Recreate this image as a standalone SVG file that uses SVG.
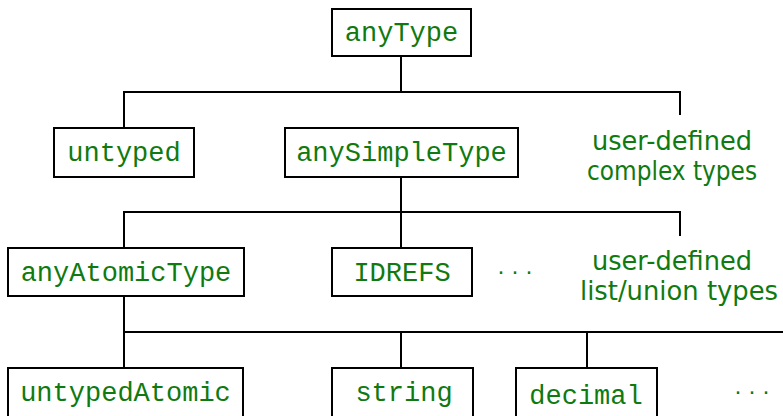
<svg xmlns="http://www.w3.org/2000/svg" width="783" height="416" viewBox="0 0 783 416">
  <style>
    .box { fill: #ffffff; stroke: #000000; stroke-width: 2; }
    .edge { fill: none; stroke: #000000; stroke-width: 2; }
    .tt { font-family: "Liberation Mono", "DejaVu Sans Mono", monospace; font-size: 27px; fill: #107a10; text-anchor: middle; }
    .sf { font-family: "DejaVu Sans", "Liberation Sans", sans-serif; font-size: 26px; fill: #107a10; text-anchor: middle; }
    .dots { font-family: "DejaVu Sans", sans-serif; font-size: 22px; fill: #107a10; text-anchor: middle; }
  </style>

  <!-- tree connectors -->
  <g id="connectors">
    <path class="edge" d="M401 56 V92 M124 128 V92 H680 V115"/>
    <path class="edge" d="M401 177 V212 M124 248 V212 H680 V236 M401 212 V248"/>
    <path class="edge" d="M124 296 V332 H783 M124 332 V368 M401 332 V368 M587 332 V368"/>
  </g>

  <g id="anyType">
    <rect class="box" x="332" y="9" width="139" height="47"/>
    <text class="tt" x="401.5" y="41">anyType</text>
  </g>

  <g id="untyped">
    <rect class="box" x="54" y="128" width="140" height="49"/>
    <text class="tt" x="124" y="161">untyped</text>
  </g>

  <g id="anySimpleType">
    <rect class="box" x="285" y="128" width="233" height="49"/>
    <text class="tt" x="401.5" y="161">anySimpleType</text>
  </g>

  <g id="complexTypes">
    <text class="sf" x="672" y="150" textLength="160" lengthAdjust="spacingAndGlyphs">user-defined</text>
    <text class="sf" x="672" y="180" textLength="170" lengthAdjust="spacingAndGlyphs">complex types</text>
  </g>

  <g id="anyAtomicType">
    <rect class="box" x="8" y="248" width="236" height="48"/>
    <text class="tt" x="126" y="281">anyAtomicType</text>
  </g>

  <g id="IDREFS">
    <rect class="box" x="332" y="248" width="140" height="48"/>
    <text class="tt" x="402" y="281">IDREFS</text>
  </g>

  <g id="moreLists">
    <text class="dots" x="515" y="280">· · ·</text>
  </g>

  <g id="listUnionTypes">
    <text class="sf" x="672" y="270" textLength="160" lengthAdjust="spacingAndGlyphs">user-defined</text>
    <text class="sf" x="679" y="300" textLength="198" lengthAdjust="spacingAndGlyphs">list/union types</text>
  </g>

  <g id="untypedAtomic">
    <rect class="box" x="8" y="368" width="235" height="60"/>
    <text class="tt" x="125.5" y="401">untypedAtomic</text>
  </g>

  <g id="string">
    <rect class="box" x="332" y="368" width="141" height="60"/>
    <text class="tt" x="404" y="401">string</text>
  </g>

  <g id="decimal">
    <rect class="box" x="516" y="368" width="141" height="60"/>
    <text class="tt" x="586" y="404">decimal</text>
  </g>

  <g id="moreAtomics">
    <text class="dots" x="752" y="400">· · ·</text>
  </g>
</svg>
